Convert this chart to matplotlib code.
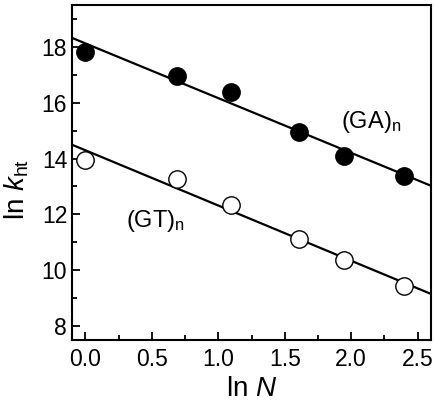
import numpy as np
import matplotlib
matplotlib.use("Agg")
import matplotlib.pyplot as plt
from matplotlib.ticker import MultipleLocator

plt.rcParams['font.family'] = ['Liberation Sans', 'DejaVu Sans']
plt.rcParams['mathtext.fontset'] = 'custom'
plt.rcParams['mathtext.rm'] = 'Liberation Sans'
plt.rcParams['mathtext.it'] = 'Liberation Sans:italic'

ln_N = [0.0, 0.693, 1.099, 1.609, 1.946, 2.398]
ga_ln_k = [17.82, 16.95, 16.38, 14.95, 14.09, 13.37]
gt_ln_k = [13.95, 13.27, 12.34, 11.11, 10.36, 9.42]

fig = plt.figure(figsize=(4.34, 4.03), dpi=100)
ax = fig.add_axes([72/434, 1-340/403, (431-72)/434, (340-5)/403])

xl = np.array([-0.1, 2.6])
for ys in (ga_ln_k, gt_ln_k):
    p = np.polyfit(ln_N, ys, 1)
    ax.plot(xl, np.polyval(p, xl), color='black', lw=1.6, zorder=2)

ax.plot(ln_N, ga_ln_k, 'o', color='black', ms=12.5, zorder=3)
ax.plot(ln_N, gt_ln_k, 'o', mfc='white', mec='black', mew=1.0, ms=12.5, zorder=3)

ax.text(2.15, 15.3, r'(GA)$_\mathrm{n}$', fontsize=17, ha='center', va='center')
ax.text(0.53, 11.75, r'(GT)$_\mathrm{n}$', fontsize=17, ha='center', va='center')

ax.set_xlim(-0.1, 2.6)
ax.set_ylim(7.5, 19.5)
ax.xaxis.set_major_locator(MultipleLocator(0.5))
ax.xaxis.set_minor_locator(MultipleLocator(0.25))
ax.yaxis.set_major_locator(MultipleLocator(2))
ax.yaxis.set_minor_locator(MultipleLocator(1))
ax.tick_params(which='both', direction='in', labelsize=16.5, width=1.3)
ax.tick_params(axis='x', which='major', pad=6)
ax.tick_params(which='major', length=6)
ax.tick_params(which='minor', length=3.5)
for s in ax.spines.values():
    s.set_linewidth(1.5)

ax.set_xlabel(r'ln $N$', fontsize=20, labelpad=3)
ax.set_ylabel(r'ln $k_\mathrm{ht}$', fontsize=20)
ax.yaxis.set_label_coords(-0.115, 0.45)

fig.savefig('out.png', dpi=100)
